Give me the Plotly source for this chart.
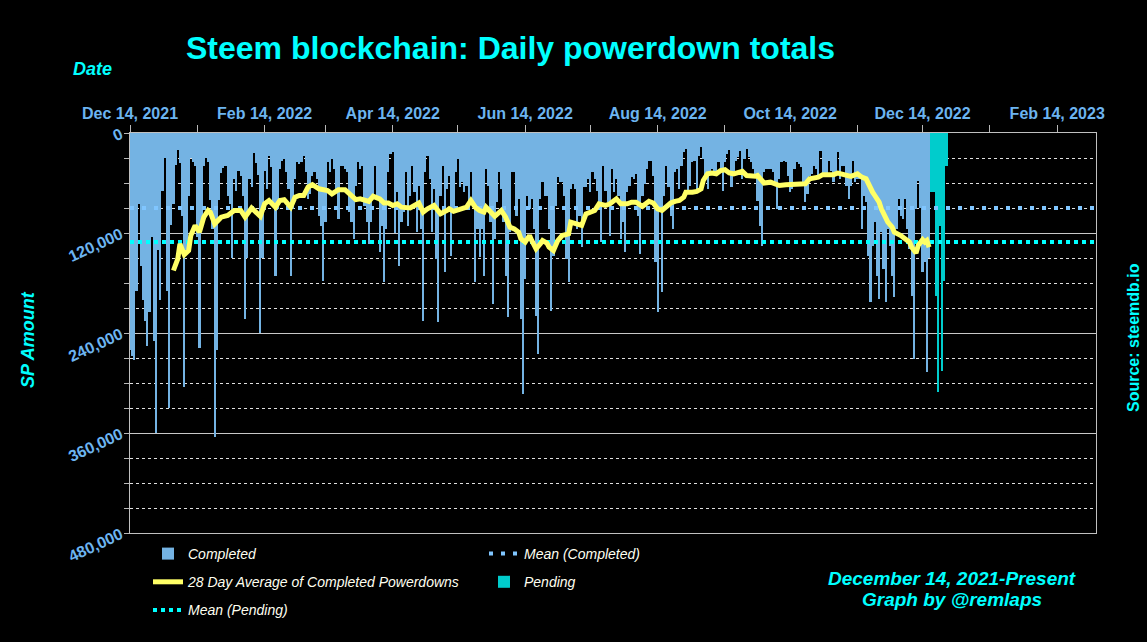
import numpy as np
import pandas as pd
import plotly.graph_objects as go

# ---------------- data ----------------
START_DATE = "2021-12-14"
AXIS_END = "2023-03-03 21:00"

# daily completed powerdowns, thousands of SP, from Dec 14, 2021
completed_k = [
    260, 268, 272, 190, 85, 160, 200, 225, 255, 215,
    125, 250, 360, 140, 200, 70, 30, 190, 330, 110,
    85, 38, 20, 36, 100, 305, 145, 75, 30, 35,
    40, 125, 258, 115, 40, 30, 35, 80, 115, 365,
    260, 80, 48, 42, 40, 75, 85, 150, 55, 70,
    45, 52, 75, 223, 150, 55, 65, 24, 36, 50,
    240, 150, 45, 67, 27, 41, 87, 171, 91, 43,
    33, 31, 47, 67, 171, 91, 55, 35, 37, 35,
    27, 47, 79, 73, 51, 47, 55, 99, 111, 177,
    107, 35, 47, 31, 43, 67, 103, 39, 39, 43,
    47, 95, 107, 127, 63, 35, 43, 39, 87, 107,
    133, 107, 75, 39, 75, 143, 111, 179, 115, 47,
    25, 23, 120, 71, 159, 107, 95, 47, 111, 75,
    39, 71, 119, 63, 115, 225, 47, 27, 55, 119,
    67, 151, 227, 75, 39, 167, 67, 51, 147, 91,
    47, 31, 65, 59, 71, 63, 81, 47, 83, 179,
    115, 149, 115, 171, 43, 63, 107, 205, 127, 83,
    47, 67, 107, 171, 221, 119, 47, 47, 99, 79,
    223, 313, 175, 75, 91, 79, 115, 220, 265, 79,
    59, 75, 75, 115, 213, 147, 87, 53, 59, 59,
    75, 151, 179, 67, 61, 67, 115, 99, 137, 65,
    65, 55, 71, 47, 55, 69, 83, 131, 39, 69,
    83, 123, 43, 71, 55, 75, 127, 107, 143, 71,
    63, 53, 55, 49, 99, 145, 75, 61, 43, 33,
    33, 51, 155, 215, 95, 191, 75, 39, 65, 99,
    115, 47, 43, 67, 39, 23, 19, 71, 63, 35,
    33, 67, 27, 17, 31, 55, 67, 47, 43, 49,
    45, 35, 47, 69, 35, 25, 20, 65, 49, 33,
    29, 21, 55, 31, 19, 29, 35, 43, 51, 81,
    111, 135, 47, 43, 43, 43, 47, 63, 91, 55,
    35, 33, 35, 51, 71, 67, 43, 35, 37, 41,
    59, 83, 73, 51, 49, 39, 43, 51, 21, 49,
    53, 51, 33, 45, 59, 51, 23, 55, 39, 39,
    63, 79, 63, 33, 59, 55, 55, 115, 75, 83,
    147, 203, 135, 107, 171, 199, 119, 163, 203, 115,
    135, 171, 197, 115, 79, 99, 103, 79, 115, 139,
    195, 271, 91, 57, 90, 167, 155, 287, 150,
]

# pending powerdowns (the days right after the completed ones), thousands of SP
pending_k = [71, 71, 195, 311, 111, 285, 177, 39]

# 28-day average line, read at these day offsets from START_DATE, thousands of SP
avg_day_offsets = [
    20, 22, 23, 25, 27, 28, 30, 32, 34, 36,
    37, 39, 42, 45, 48, 51, 53, 56, 60, 62,
    64, 67, 69, 71, 74, 76, 78, 80, 82, 84,
    87, 89, 91, 93, 96, 99, 101, 104, 106, 109,
    110, 112, 115, 117, 119, 121, 123, 125, 129, 131,
    133, 135, 137, 140, 143, 146, 147, 149, 153, 155,
    157, 159, 161, 163, 164, 166, 168, 171, 173, 175,
    177, 179, 180, 182, 184, 185, 187, 189, 190, 192,
    193, 195, 197, 199, 202, 203, 206, 208, 210, 212,
    214, 216, 219, 221, 224, 226, 229, 231, 233, 236,
    239, 241, 243, 245, 247, 249, 251, 253, 255, 256,
    259, 261, 263, 264, 266, 268, 270, 272, 274, 276,
    278, 280, 282, 284, 286, 288, 289, 291, 292, 295,
    298, 299, 302, 304, 306, 311, 313, 315, 317, 319,
    324, 326, 331, 332, 335, 337, 339, 340, 342, 343,
    345, 346, 348, 349, 351, 352, 355, 357, 359, 360,
    362, 363, 365, 366, 367, 368,
]
avg_k = [
    165, 151, 133, 146, 141, 123, 111, 119, 101, 93,
    95, 109, 101, 99, 93, 93, 101, 90, 100, 85,
    81, 89, 81, 80, 89, 77, 75, 75, 65, 62,
    67, 68, 69, 73, 68, 68, 73, 80, 79, 81,
    82, 76, 79, 84, 84, 87, 85, 89, 90, 87,
    84, 95, 91, 87, 97, 93, 91, 94, 90, 89,
    81, 89, 93, 95, 89, 95, 100, 93, 101, 113,
    115, 119, 127, 131, 123, 129, 139, 133, 129, 132,
    137, 141, 129, 123, 121, 107, 109, 111, 97, 95,
    93, 85, 87, 85, 79, 85, 85, 83, 83, 88,
    82, 84, 91, 93, 88, 84, 82, 81, 77, 71,
    71, 70, 67, 57, 49, 48, 49, 45, 44, 48,
    49, 47, 46, 51, 52, 52, 51, 57, 60, 59,
    61, 63, 62, 62, 61, 61, 55, 54, 53, 50,
    50, 48, 51, 52, 49, 53, 55, 61, 71, 75,
    83, 91, 101, 107, 113, 119, 123, 127, 131, 137,
    144, 135, 128, 131, 129, 137,
]

MEAN_COMPLETED = 90000
MEAN_PENDING = 130800

tick_dates = ["2021-12-14", "2022-01-14", "2022-02-14", "2022-03-14", "2022-04-14",
              "2022-05-14", "2022-06-14", "2022-07-14", "2022-08-14", "2022-09-14",
              "2022-10-14", "2022-11-14", "2022-12-14", "2023-01-14", "2023-02-14"]
tick_labels = ["Dec 14, 2021", "", "Feb 14, 2022", "", "Apr 14, 2022", "",
               "Jun 14, 2022", "", "Aug 14, 2022", "", "Oct 14, 2022", "",
               "Dec 14, 2022", "", "Feb 14, 2023"]
y_tickvals = [0, 120000, 240000, 360000, 480000]
y_ticktext = ["0", "120,000", "240,000", "360,000", "480,000"]

# ---------------- derived series ----------------
start = pd.Timestamp(START_DATE)
completed_dates = start + pd.to_timedelta(np.arange(len(completed_k)), unit="D")
pending_dates = start + pd.to_timedelta(len(completed_k) + np.arange(len(pending_k)), unit="D")
avg_dates = start + pd.to_timedelta(np.array(avg_day_offsets), unit="D")
completed_sp = [v * 1000 for v in completed_k]
pending_sp = [v * 1000 for v in pending_k]
avg_sp = [v * 1000 for v in avg_k]

# ---------------- styling ----------------
FONT = "Liberation Sans, Arial, sans-serif"
CYAN = "#00ffff"
TICK_BLUE = "#6cb4f0"
BAR_BLUE = "#74b3e3"
MEAN_BLUE = "#80c6ff"
TEAL = "#00cccc"
YELLOW = "#ffff66"
LEGEND_TXT = "#fffff0"

W, H = 1147, 642
PL, PR, PT, PB = 130, 1096, 133, 533


def px(x):
    return (x - PL) / (PR - PL)


def py(y):
    return (PB - y) / (PB - PT)


fig = go.Figure()

fig.add_trace(go.Bar(
    x=completed_dates, y=completed_sp, name="Completed",
    marker=dict(color=BAR_BLUE, line=dict(width=0)),
    legend="legend", legendrank=1, legendgroup="g1",
))
fig.add_trace(go.Bar(
    x=pending_dates, y=pending_sp, name="Pending",
    marker=dict(color=TEAL, line=dict(width=0)),
    legend="legend2", legendrank=2, legendgroup="g4",
))
fig.add_trace(go.Scatter(
    x=[START_DATE, AXIS_END], y=[MEAN_COMPLETED, MEAN_COMPLETED],
    mode="lines", name="Mean (Completed)",
    line=dict(color=MEAN_BLUE, width=4, dash="4px,8px"),
    legend="legend2", legendrank=1, legendgroup="g2",
))
fig.add_trace(go.Scatter(
    x=[START_DATE, AXIS_END], y=[MEAN_PENDING, MEAN_PENDING],
    mode="lines", name="Mean (Pending)",
    line=dict(color=CYAN, width=4, dash="4px,4px"),
    legend="legend", legendrank=3, legendgroup="g5",
))
fig.add_trace(go.Scatter(
    x=avg_dates, y=avg_sp, mode="lines",
    name="28 Day Average of Completed Powerdowns",
    line=dict(color=YELLOW, width=5),
    legend="legend", legendrank=2, legendgroup="g3",
))

legend_common = dict(
    orientation="v", xanchor="left", yanchor="top",
    bgcolor="rgba(0,0,0,0)", tracegroupgap=7,
    font=dict(family=FONT, size=14, color=LEGEND_TXT, style="italic"),
    traceorder="grouped",
)

annotations = [
    dict(text="Steem blockchain: Daily powerdown totals", x=px(510), y=py(48),
         font=dict(family=FONT, size=32, color=CYAN, weight="bold")),
    dict(text="Date", x=px(92), y=py(69),
         font=dict(family=FONT, size=18, color=CYAN, weight="bold", style="italic")),
    dict(text="SP Amount", x=px(28), y=py(340), textangle=-90,
         font=dict(family=FONT, size=18, color=CYAN, weight="bold", style="italic")),
    dict(text="Source: steemdb.io", x=px(1133), y=py(338), textangle=-90,
         font=dict(family=FONT, size=16, color=CYAN, weight="bold")),
    dict(text="December 14, 2021-Present", x=px(952), y=py(578),
         font=dict(family=FONT, size=19, color=CYAN, weight="bold", style="italic")),
    dict(text="Graph by @remlaps", x=px(952), y=py(599),
         font=dict(family=FONT, size=19, color=CYAN, weight="bold", style="italic")),
]
for a in annotations:
    a.update(xref="paper", yref="paper", xanchor="center", yanchor="middle",
             showarrow=False)

fig.update_layout(
    width=W, height=H,
    paper_bgcolor="black", plot_bgcolor="black",
    margin=dict(l=PL, r=W - PR, t=PT, b=H - PB, autoexpand=False),
    barmode="overlay", bargap=0,
    font=dict(family=FONT, color=TICK_BLUE),
    showlegend=True,
    legend=dict(x=px(148), y=py(538), **legend_common),
    legend2=dict(x=px(484), y=py(538), **legend_common),
    annotations=annotations,
    xaxis=dict(
        type="date", side="top", range=[START_DATE, AXIS_END],
        tickmode="array", tickvals=tick_dates, ticktext=tick_labels,
        tickfont=dict(family=FONT, size=16, color=TICK_BLUE, weight="bold"),
        ticks="outside", ticklen=7, tickcolor="#b8b8b8", tickwidth=1,
        showgrid=False, zeroline=False,
        showline=True, linecolor="#c0c0c0", linewidth=1, mirror=True,
    ),
    yaxis=dict(
        range=[480000, 0], autorange=False,
        tickmode="array", tickvals=y_tickvals, ticktext=y_ticktext,
        tickangle=-25,
        tickfont=dict(family=FONT, size=16, color=TICK_BLUE, weight="bold"),
        ticks="outside", ticklen=5, tickcolor="#b8b8b8",
        showgrid=True, gridcolor="#c8c8c8", gridwidth=1,
        zeroline=False,
        showline=True, linecolor="#c0c0c0", linewidth=1, mirror=True,
        minor=dict(dtick=30000, tick0=0, showgrid=True, gridcolor="#e0e0e0",
                   griddash="3px,3px", gridwidth=1, ticks="outside", ticklen=5,
                   tickcolor="#b8b8b8"),
    ),
)

# the page's default body margin would shift the figure; remove it
fig.write_html(
    "out.html",
    config={"displayModeBar": False},
    post_script="document.body.style.margin='0';document.body.style.overflow='hidden';",
)
